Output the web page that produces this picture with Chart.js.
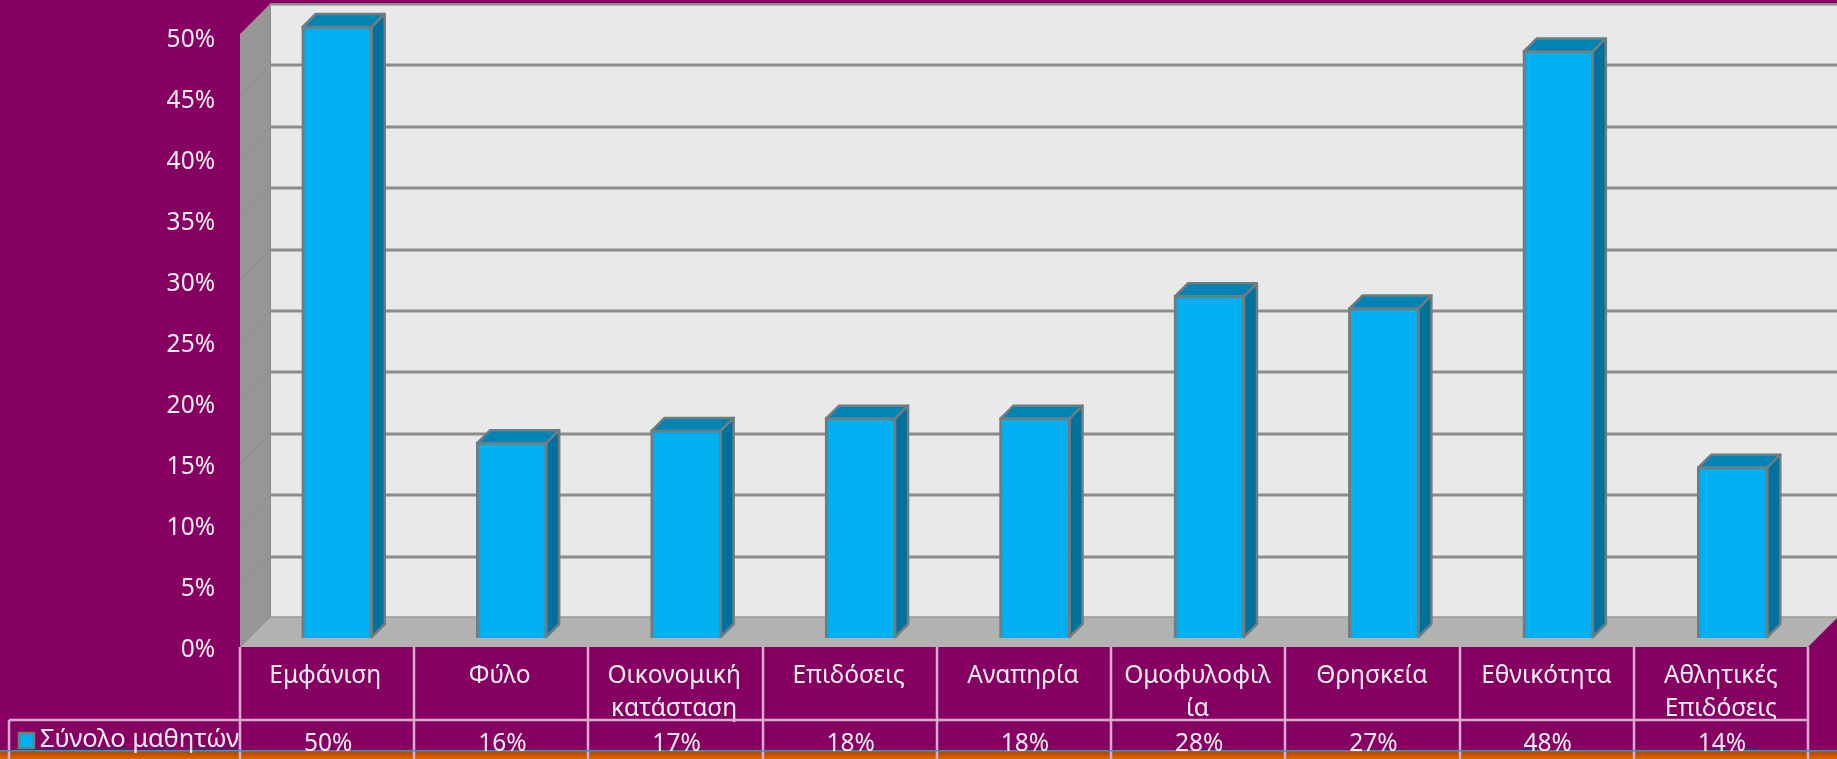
<!DOCTYPE html>
<html><head><meta charset="utf-8">
<script src="https://cdn.jsdelivr.net/npm/chart.js@4"></script>
<style>html,body{margin:0;padding:0;background:#850060;overflow:hidden}canvas{display:block}</style>
</head><body>
<canvas id="c" width="1837" height="759"></canvas>
<script>
const categories = [['Εμφάνιση'],['Φύλο'],['Οικονομική','κατάσταση'],['Επιδόσεις'],['Αναπηρία'],['Ομοφυλοφιλ','ία'],['Θρησκεία'],['Εθνικότητα'],['Αθλητικές','Επιδόσεις']];
const seriesName = 'Σύνολο μαθητών';
const seriesValues = [50,16,17,18,18,28,27,48,14];
const gridValues = [5,10,15,20,25,30,35,40,45,50];

const FONT = '"Noto Sans"';
const TXT = '#f6eef4';
const LINE = '#dcaad0';
const DX = 30, DY = 30;
const FL = 240, FR = 1808, FB = 647;
const BT = 4;

const box3d = {
  id:'box3d',
  beforeDraw(chart){
    const c = chart.ctx;
    c.save();
    c.fillStyle='#850060'; c.fillRect(0,0,1837,759);
    const g=c.createLinearGradient(0,751,0,759);
    g.addColorStop(0,'#a84400'); g.addColorStop(1,'#e26400');
    c.fillStyle=g; c.fillRect(0,751,1837,8);
    c.fillStyle='#e9e9e9'; c.fillRect(FL+DX,BT,1837-FL-DX,FB-DY-BT);
    c.fillStyle='#8c8c8c'; c.fillRect(FL+DX,BT-1,1837-FL-DX,2.5);
    c.fillRect(FL+DX-1,BT,2,FB-DY-BT);
    c.fillStyle='#969696';
    c.beginPath(); c.moveTo(FL,BT+DY); c.lineTo(FL+DX,BT); c.lineTo(FL+DX,FB-DY); c.lineTo(FL,FB); c.closePath(); c.fill();
    c.fillStyle='#b2b2b2';
    c.beginPath(); c.moveTo(FL,FB); c.lineTo(FL+DX,FB-DY); c.lineTo(FR+DX,FB-DY); c.lineTo(FR,FB); c.closePath(); c.fill();
    c.strokeStyle='#9a9a9a'; c.lineWidth=1.5;
    c.beginPath(); c.moveTo(FL+DX,FB-DY); c.lineTo(FR+DX,FB-DY); c.stroke();
    const s = chart.scales.yBack;
    gridValues.slice(0,-1).forEach(v=>{
      const y = Math.round(s.getPixelForValue(v));
      c.strokeStyle='#8c8c8c'; c.lineWidth=3;
      c.beginPath(); c.moveTo(FL+DX,y); c.lineTo(1837,y); c.stroke();
      c.strokeStyle='#8f8f8f'; c.lineWidth=1.5;
      c.beginPath(); c.moveTo(FL+DX,y); c.lineTo(FL,y+DY); c.stroke();
    });
    c.restore();
  },
  beforeDatasetsDraw(chart){
    const c = chart.ctx, d = 13;
    c.save();
    c.strokeStyle='#6f7c80'; c.lineWidth=2.5; c.lineJoin='round';
    chart.getDatasetMeta(0).data.forEach(b=>{
      const l=b.x-b.width/2+1, r=b.x+b.width/2-1, t=b.y+1, bt=b.base-1;
      c.fillStyle='#0084b5';
      c.beginPath(); c.moveTo(l,t); c.lineTo(l+d,t-d); c.lineTo(r+d,t-d); c.lineTo(r,t); c.closePath(); c.fill(); c.stroke();
      c.fillStyle='#00709c';
      c.beginPath(); c.moveTo(r,t); c.lineTo(r+d,t-d); c.lineTo(r+d,bt-d); c.lineTo(r,bt); c.closePath(); c.fill(); c.stroke();
    });
    c.restore();
  },
  afterDraw(chart){
    const c = chart.ctx, w=(FR-FL)/categories.length, rowT=720, bot=759;
    c.save();
    c.strokeStyle=LINE; c.lineWidth=2.5;
    c.beginPath();
    for(let i=0;i<=categories.length;i++){ const x=Math.round(FL+i*w); c.moveTo(x,FB); c.lineTo(x,bot); }
    c.moveTo(9,rowT); c.lineTo(FR,rowT);
    c.moveTo(9,rowT); c.lineTo(9,bot);
    c.stroke();
    c.fillStyle='#4a88d6'; c.fillRect(0,750,1837,1.5);
    c.font='24.5px '+FONT; c.fillStyle=TXT; c.textBaseline='middle'; c.textAlign='center';
    seriesValues.forEach((v,i)=>c.fillText(v+'%',FL+(i+.5)*w+1,744));
    c.textAlign='left';
    c.font='25.5px '+FONT;
    c.fillText(seriesName,40,740);
    c.fillStyle='#00b0f0'; c.strokeStyle='#6f7c80'; c.lineWidth=2.5;
    c.fillRect(19,733,15,15); c.strokeRect(19,733,15,15);
    c.restore();
  }
};

function noPad(s){ s.paddingTop=0; s.paddingBottom=0; s.paddingLeft=0; s.paddingRight=0; }

new Chart(document.getElementById('c'),{
  type:'bar',
  data:{labels:categories,datasets:[{label:seriesName,data:seriesValues,yAxisID:'y',xAxisID:'x',
    backgroundColor:'#00b0f0',borderColor:'#6f7c80',borderWidth:3,barThickness:71}]},
  plugins:[box3d],
  options:{
    responsive:false,animation:false,
    layout:{padding:{left:0,right:17,top:BT,bottom:0}},
    plugins:{legend:{display:false},tooltip:{enabled:false},title:{display:false}},
    scales:{
      x:{position:'bottom',grid:{display:false},border:{display:false},
        afterFit(s){noPad(s);s.height=759-FB;},
        ticks:{color:TXT,font:{family:FONT,size:24.5,lineHeight:1.35},maxRotation:0,minRotation:0,autoSkip:false,padding:4,labelOffset:-12}},
      y:{display:false,min:-9/12.24,max:634/12.24},
      yBack:{display:false,min:-29/12.28,max:50},
      yFront:{position:'left',min:0,max:643/12.2,grid:{display:false},border:{display:false},
        afterFit(s){noPad(s);s.width=250;},
        ticks:{stepSize:5,includeBounds:false,color:TXT,font:{family:FONT,size:24.5},padding:27,labelOffset:3,callback:v=>v+'%'}}
    }
  }
});
</script>
</body></html>
